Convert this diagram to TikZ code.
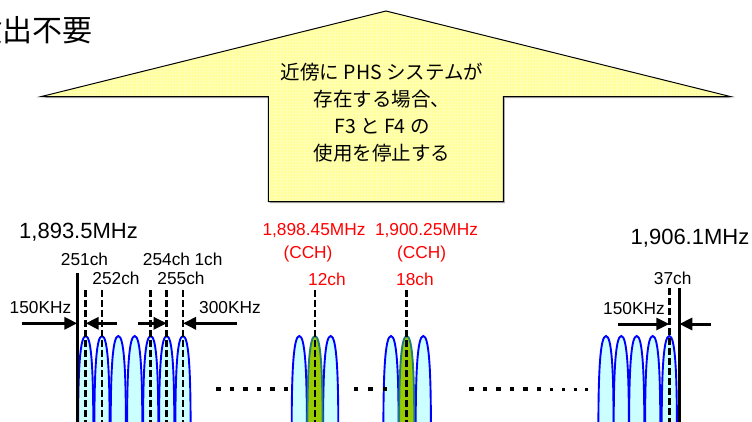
\documentclass[tikz,border=0pt]{standalone}
\usepackage{fontspec}
\setmainfont{Liberation Sans}
\newfontfamily\jpfont{Noto Sans CJK JP}
\usetikzlibrary{arrows.meta,patterns}
\definecolor{phsblue}{HTML}{0000FF}
\definecolor{phscyan}{HTML}{CCFFFF}
\definecolor{phsgreen}{HTML}{99CC00}
\definecolor{phsteal}{HTML}{1E7F7A}
\definecolor{phsred}{HTML}{FF0000}
\definecolor{bannerbg}{HTML}{FFFFB4}
\begin{document}
\begin{tikzpicture}[x=1pt,y=-1pt,
 lbl/.style={inner sep=0pt,anchor=base,font=\fontsize{17.3}{20}\selectfont},
 biglbl/.style={inner sep=0pt,anchor=base,font=\fontsize{22}{26}\selectfont},
 redlbl/.style={lbl,text=phsred},
 solidln/.style={line width=3pt},
 dashln/.style={line width=2.6pt,dash pattern=on 6.5pt off 3.5pt},
 dimarrow/.style={line width=3pt,-{Triangle[length=13pt,width=12pt]}},
 humpline/.style={draw=phsblue,line width=1.9pt,fill=phscyan},
 greenhump/.style={draw=phsteal,line width=1.9pt,fill=phsgreen},
 bigdots/.style={line width=4.5pt},
 smalldots/.style={line width=3pt,dash pattern=on 3pt off 8.67pt},
]
\useasboundingbox (0,0) rectangle (752,421);

% ---- banner (upward arrow shape) ----
\fill[gray!65] (42.2,98.2) -- (387.5,12.5) -- (732.5,98.2) -- (504.8,98.2) -- (504.8,203.2) -- (269.8,203.2) -- (269.8,98.2) -- cycle;
\fill[bannerbg] (40.7,96.7) -- (386,11) -- (731,96.7) -- (503.3,96.7) -- (503.3,201.7) -- (268.3,201.7) -- (268.3,96.7) -- cycle;
\path[pattern=dots,pattern color=yellow] (40.7,96.7) -- (386,11) -- (731,96.7) -- (503.3,96.7) -- (503.3,201.7) -- (268.3,201.7) -- (268.3,96.7) -- cycle;
\draw[line width=1pt] (40.7,96.7) -- (386,11) -- (731,96.7) -- (503.3,96.7) -- (503.3,201.7) -- (268.3,201.7) -- (268.3,96.7) -- cycle;
\node[align=center,inner sep=0pt,font=\jpfont\fontsize{19.5}{27}\selectfont] (msg) at (382,112.5)
  {近傍に PHS システムが\\存在する場合、\\F3 と F4 の\\使用を停止する};

% ---- top-left note (cut at the left edge, as in the original) ----
\node[anchor=west,inner sep=0pt,font=\jpfont\fontsize{30}{32}\selectfont] (note) at (-28,30) {検出不要};

% ---- humps ----
\foreach \c in {85.7,102,118.3,134.7,150.7,166.7,183, 299.3,330.7, 391,423.3, 606,621.3,636.7,652.7,669.3}
  \path[humpline] (\c-7.6,426) .. controls (\c-7.6,368) and (\c-5.5,336) .. (\c,336) .. controls (\c+5.5,336) and (\c+7.6,368) .. (\c+7.6,426);
\foreach \c in {315,406.7}
  \path[greenhump] (\c-7.6,426) .. controls (\c-7.6,368) and (\c-5.5,336) .. (\c,336) .. controls (\c+5.5,336) and (\c+7.6,368) .. (\c+7.6,426);

% ---- dotted gaps ----
\draw[bigdots,dash pattern=on 4.5pt off 9pt] (216,389) coordinate (d1s) -- (290,389) coordinate (d1e);
\draw[bigdots,dash pattern=on 4.5pt off 10pt] (353.75,389) coordinate (d2s) -- (388,389) coordinate (d2e);
\draw[bigdots,dash pattern=on 4.5pt off 9pt] (469.45,389) coordinate (d3s) -- (542,389) coordinate (d3e);
\draw[smalldots] (550.2,389) coordinate (d4s) -- (589,389) coordinate (d4e);

% ---- band edges (solid) ----
\coordinate (sLt) at (77.3,273);   \coordinate (sLb) at (77.3,426);
\coordinate (sRt) at (679.3,288);  \coordinate (sRb) at (679.3,426);
\draw[solidln] (sLt) -- (sLb);
\draw[solidln] (sRt) -- (sRb);

% ---- channel centres (dashed) ----
\foreach \n/\x in {ch251/85.7,ch252/102,ch254/150.7,ch1/166.7,ch255/183,ch12/315,ch18/406.7}{
  \coordinate (\n t) at (\x,290); \coordinate (\n b) at (\x,426);
  \draw[dashln] (\n t) -- (\n b);}
\coordinate (ch37t) at (669.3,288); \coordinate (ch37b) at (669.3,426);
\draw[dashln] (ch37t) -- (ch37b);

% ---- dimension arrows ----
\coordinate (a1s) at (21.7,323.3);  \coordinate (a1e) at (77.3,323.3);
\coordinate (a2s) at (117,323.3);   \coordinate (a2e) at (85.7,323.3);
\coordinate (a3s) at (138,323.3);   \coordinate (a3e) at (166.7,323.3);
\coordinate (a4s) at (237,323.3);   \coordinate (a4e) at (183,323.3);
\coordinate (a5s) at (618,324);     \coordinate (a5e) at (669.3,324);
\coordinate (a6s) at (710.7,324);   \coordinate (a6e) at (679.3,324);
\draw[dimarrow] (a1s) -- (a1e);
\draw[dimarrow] (a2s) -- (a2e);
\draw[dimarrow] (a3s) -- (a3e);
\draw[dimarrow] (a4s) -- (a4e);
\draw[dimarrow] (a5s) -- (a5e);
\draw[dimarrow] (a6s) -- (a6e);

% ---- labels ----
\node[biglbl] (f1) at (78.5,238.3) {1,893.5MHz};
\node[lbl] (l251) at (84.5,265) {251ch};
\node[lbl] (l252) at (116,284) {252ch};
\node[lbl] (l254) at (166.5,265) {254ch};
\node[lbl] (l1) at (208.5,265) {1ch};
\node[lbl] (l255) at (181,284) {255ch};
\node[lbl] (k150a) at (40.5,313.3) {150KHz};
\node[lbl] (k300) at (230,313.3) {300KHz};
\node[redlbl] (r1) at (314,235) {1,898.45MHz};
\node[redlbl] (r1c) at (308,258.3) {(CCH)};
\node[redlbl] (r12) at (327,285) {12ch};
\node[redlbl] (r2) at (426.5,235) {1,900.25MHz};
\node[redlbl] (r2c) at (421.7,258.3) {(CCH)};
\node[redlbl] (r18) at (415,285) {18ch};
\node[biglbl] (f2) at (690,244) {1,906.1MHz};
\node[lbl] (l37) at (672.7,284) {37ch};
\node[lbl] (k150b) at (634,314) {150KHz};
\end{tikzpicture}
\end{document}
